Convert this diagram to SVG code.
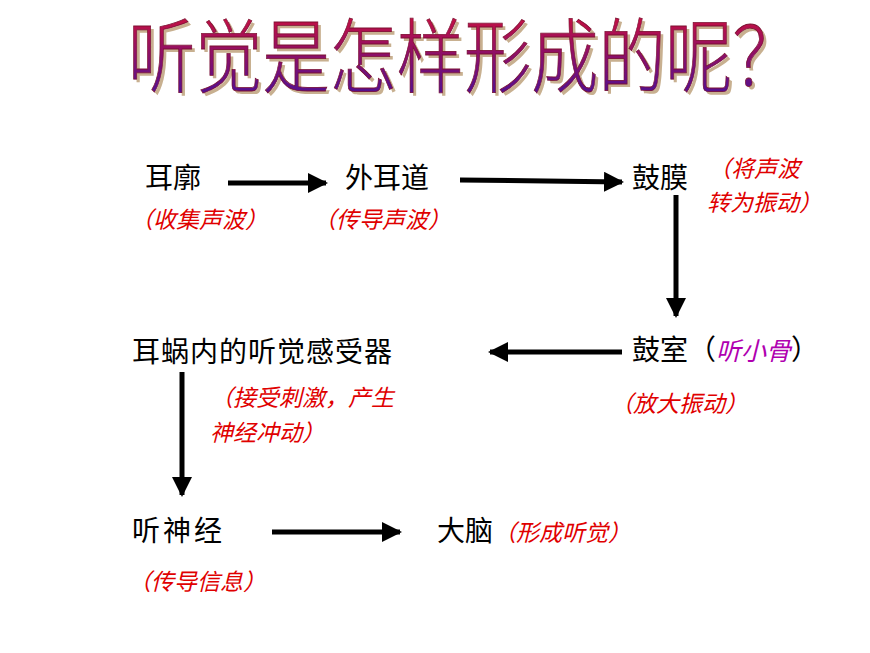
<svg xmlns="http://www.w3.org/2000/svg" width="870" height="653" viewBox="0 0 870 653">
<defs>
<linearGradient id="tg" x1="0" y1="0" x2="0" y2="1"><stop offset="0" stop-color="#e8102a"/><stop offset="1" stop-color="#3a10a0"/></linearGradient>
<marker id="ah" viewBox="0 0 10 10" refX="9" refY="5" markerWidth="4" markerHeight="4" orient="auto" markerUnits="strokeWidth"><path d="M0,0 L10,5 L0,10 Z" fill="#000"/></marker>
<style>
.n{font-family:"Noto Sans CJK SC","Liberation Serif",serif;font-size:28px;fill:#000}
.r{font-family:"Noto Sans CJK SC",sans-serif;font-size:23px;fill:#e00000;font-style:italic}
.t{font-family:"Noto Sans CJK SC",sans-serif;font-size:62px;font-weight:300;fill:url(#tg);stroke:#7a1030;stroke-width:0.6}
.c{stroke:#000;stroke-width:5;fill:none;marker-end:url(#ah)}
</style>
</defs>
<rect width="870" height="653" fill="#fff"/>
<g id="title" transform="translate(128,86) scale(1,1.3)">
<text class="t" x="3" y="2" style="fill:#c8b090;stroke:none" textLength="672" lengthAdjust="spacingAndGlyphs">听觉是怎样形成的呢？</text>
<text class="t" x="0" y="0" textLength="672" lengthAdjust="spacingAndGlyphs">听觉是怎样形成的呢？</text>
</g>
<g id="connectors">
<line class="c" x1="228" y1="183" x2="326" y2="183"/>
<line class="c" x1="460" y1="180" x2="622" y2="182"/>
<line class="c" x1="676" y1="195" x2="676" y2="316"/>
<line class="c" x1="622" y1="352" x2="490" y2="352"/>
<line class="c" x1="182" y1="372" x2="182" y2="495"/>
<line class="c" x1="272" y1="532" x2="400" y2="532"/>
</g>
<g id="n1"><text class="n" x="145" y="188">耳廓</text><text class="r" x="130" y="228">（收集声波）</text></g>
<g id="n2"><text class="n" x="345" y="188">外耳道</text><text class="r" x="313" y="228">（传导声波）</text></g>
<g id="n3"><text class="n" x="632" y="188">鼓膜</text><text class="r" x="708" y="177">（将声波</text><text class="r" x="707" y="211">转为振动）</text></g>
<g id="n4"><text class="n" x="632" y="360">鼓室（<tspan fill="#b000b0" font-style="italic" font-size="25">听小骨</tspan>）</text><text class="r" x="610" y="412">（放大振动）</text></g>
<g id="n5"><text class="n" x="132" y="362" letter-spacing="1">耳蜗内的听觉感受器</text><text class="r" x="210" y="406">（接受刺激，产生</text><text class="r" x="210" y="441">神经冲动）</text></g>
<g id="n6"><text class="n" x="132" y="541" letter-spacing="3">听神经</text><text class="r" x="128" y="590">（传导信息）</text></g>
<g id="n7"><text class="n" x="437" y="541">大脑<tspan class="r" font-size="23">（形成听觉）</tspan></text></g>
</svg>
